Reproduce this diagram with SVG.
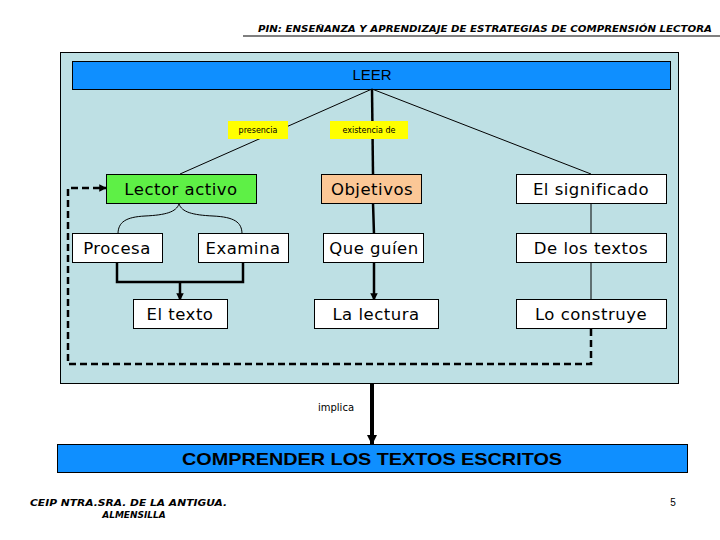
<svg xmlns="http://www.w3.org/2000/svg" width="720" height="540" viewBox="0 0 720 540">
<defs>
<marker id="ah" viewBox="0 0 10 10" refX="9" refY="5" markerWidth="2.6" markerHeight="3" orient="auto" markerUnits="strokeWidth">
<path d="M0,0 L10,5 L0,10 z" fill="#000"/>
</marker>
<marker id="ah2" viewBox="0 0 10 10" refX="9" refY="5" markerWidth="3" markerHeight="3.5" orient="auto" markerUnits="strokeWidth">
<path d="M0,0 L10,5 L0,10 z" fill="#000"/>
</marker>
</defs>
<style>
.node rect{stroke:#000;stroke-width:1}
.node text{font-family:"DejaVu Sans","Liberation Sans",sans-serif;font-size:16.5px;letter-spacing:0.5px;text-anchor:middle;fill:#000}
.thin{stroke:#000;stroke-width:1;fill:none}
.thick{stroke:#000;stroke-width:2.5;fill:none}
.dash{stroke:#000;stroke-width:2.5;fill:none;stroke-dasharray:7,4}
.lbl rect{fill:#ffff00}
.lbl text{font-family:"DejaVu Sans","Liberation Sans",sans-serif;font-size:8px;text-anchor:middle;fill:#000}
.foot{font-family:"DejaVu Sans","Liberation Sans",sans-serif;font-size:9px;font-weight:bold;font-style:italic;fill:#000}
</style>
<rect width="720" height="540" fill="#fff"/>
<text x="712" y="32" text-anchor="end" class="foot" font-size="9.5" textLength="454" lengthAdjust="spacingAndGlyphs">PIN: ENSEÑANZA Y APRENDIZAJE DE ESTRATEGIAS DE COMPRENSIÓN LECTORA</text>
<line x1="243" y1="36" x2="720" y2="36" stroke="#000" stroke-width="1.2"/>

<rect x="60.5" y="52.5" width="618" height="331" fill="#bee0e4" stroke="#000" stroke-width="1"/>

<g id="leer" class="node">
<rect x="72.5" y="61.5" width="598" height="28" fill="#0f8fff"/>
<text x="372" y="80" style="font-family:'Liberation Sans',Arial,sans-serif;font-size:15px;letter-spacing:0">LEER</text>
</g>

<g id="connectors">
<line class="thin" x1="372" y1="89" x2="180" y2="174"/>
<line class="thin" x1="372" y1="89" x2="591" y2="174"/>
<line class="thick" x1="372" y1="89" x2="373" y2="174"/>
<path class="thin" d="M179,204 C176,212 166,215 145,216 C126,217 118,222 118,234"/>
<path class="thin" d="M179,204 C182,212 192,215 213,216 C234,217 242,222 242,234"/>
<path class="thick" d="M117,263 V282 H243 V263"/>
<line class="thick" x1="180" y1="282" x2="180" y2="300" marker-end="url(#ah2)"/>
<line class="thick" x1="373" y1="203" x2="374" y2="234"/>
<line class="thick" x1="374" y1="263" x2="374" y2="300" marker-end="url(#ah2)"/>
<line class="thin" x1="591" y1="203" x2="591" y2="234"/>
<line class="thin" x1="591" y1="263" x2="591" y2="300"/>
<path class="dash" d="M591,329 V364 H68 V188 H106" marker-end="url(#ah2)"/>
<line x1="372" y1="383" x2="372" y2="444" stroke="#000" stroke-width="4" marker-end="url(#ah)"/>
</g>

<g id="lbl-presencia" class="lbl">
<rect x="228" y="121" width="60" height="18"/>
<text x="258" y="133">presencia</text>
</g>
<g id="lbl-existencia" class="lbl">
<rect x="330" y="121" width="78" height="18"/>
<text x="369" y="133">existencia de</text>
</g>

<g id="lector" class="node"><rect x="106.5" y="174.5" width="150" height="29" fill="#5ef046"/><text x="181" y="194.5">Lector activo</text></g>
<g id="objetivos" class="node"><rect x="321.5" y="174.5" width="100" height="29" fill="#fbc796"/><text x="372" y="194.5">Objetivos</text></g>
<g id="significado" class="node"><rect x="516.5" y="174.5" width="150" height="29" fill="#fff"/><text x="591" y="194.5">El significado</text></g>

<g id="procesa" class="node"><rect x="72.5" y="233.5" width="90" height="29" fill="#fff"/><text x="117" y="254">Procesa</text></g>
<g id="examina" class="node"><rect x="198.5" y="233.5" width="90" height="29" fill="#fff"/><text x="243" y="254">Examina</text></g>
<g id="queguien" class="node"><rect x="323.5" y="233.5" width="100" height="29" fill="#fff"/><text x="374" y="254">Que guíen</text></g>
<g id="delostextos" class="node"><rect x="516.5" y="233.5" width="150" height="29" fill="#fff"/><text x="591" y="254">De los textos</text></g>

<g id="eltexto" class="node"><rect x="133.5" y="299.5" width="94" height="29" fill="#fff"/><text x="180" y="320">El texto</text></g>
<g id="lalectura" class="node"><rect x="314.5" y="299.5" width="124" height="29" fill="#fff"/><text x="376" y="320">La lectura</text></g>
<g id="loconstruye" class="node"><rect x="516.5" y="299.5" width="150" height="29" fill="#fff"/><text x="591" y="320">Lo construye</text></g>

<text x="336" y="411" text-anchor="middle" style="font-family:'DejaVu Sans',sans-serif;font-size:10px">implica</text>

<g id="comprender" class="node">
<rect x="57.5" y="444.5" width="630" height="28" fill="#0f8fff"/>
<text x="372" y="465" textLength="380" lengthAdjust="spacingAndGlyphs" style="font-family:'Liberation Sans',Arial,sans-serif;font-size:17px;font-weight:bold;letter-spacing:0">COMPRENDER LOS TEXTOS ESCRITOS</text>
</g>

<text x="30" y="506" class="foot" textLength="197" lengthAdjust="spacingAndGlyphs">CEIP NTRA.SRA. DE LA ANTIGUA.</text>
<text x="134" y="518" class="foot" text-anchor="middle">ALMENSILLA</text>
<text x="673" y="506" style="font-family:'Liberation Sans',sans-serif;font-size:10px" text-anchor="middle">5</text>
</svg>
